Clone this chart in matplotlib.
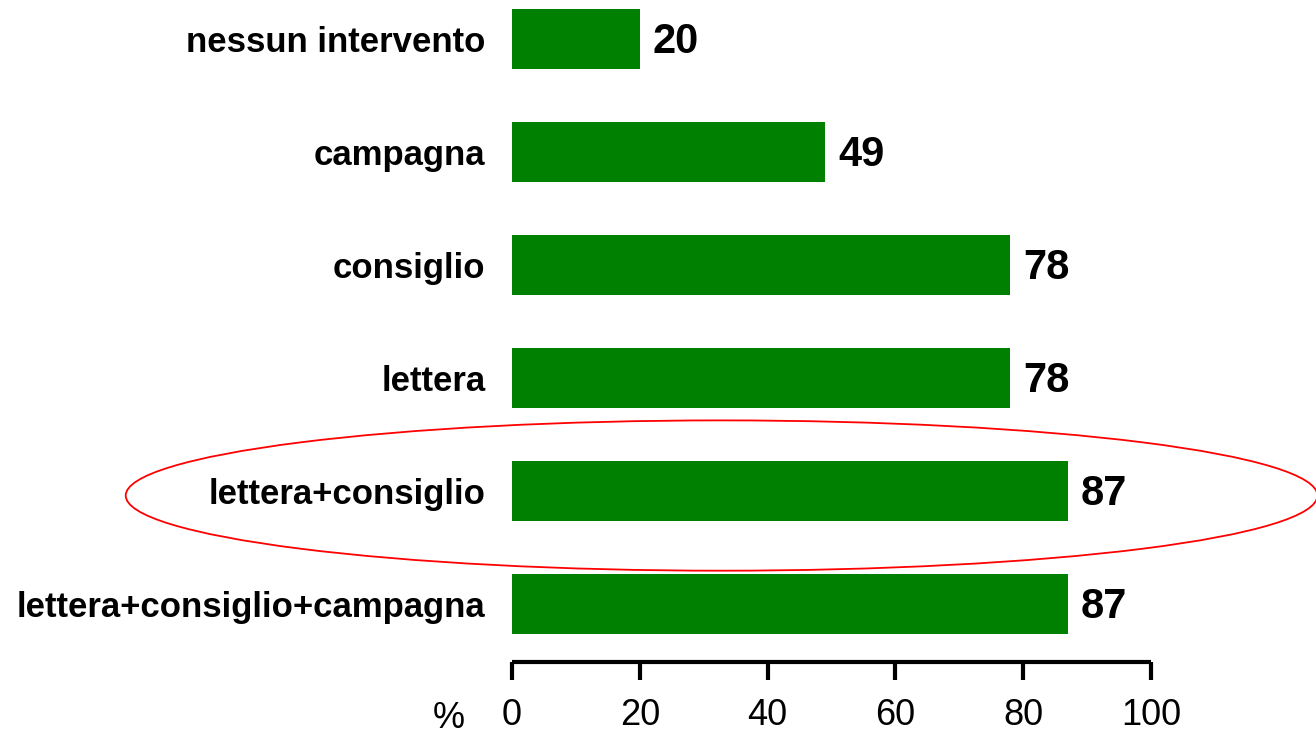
import matplotlib
matplotlib.use("Agg")
import matplotlib.pyplot as plt
from matplotlib.patches import Ellipse

categories = ["nessun intervento", "campagna", "consiglio", "lettera",
              "lettera+consiglio", "lettera+consiglio+campagna"]
values = [20, 49, 78, 78, 87, 87]
ticks = [0, 20, 40, 60, 80, 100]

plt.rcParams['font.family'] = ['Liberation Sans', 'DejaVu Sans']

fig = plt.figure(figsize=(13.16, 7.34), dpi=100)
ax = fig.add_axes([512 / 1316, 1 - 662 / 734, 639 / 1316, 662 / 734])

pos = list(range(len(categories)))
ax.barh(pos, values, height=0.53, color="#008000")
for p, v in zip(pos, values):
    ax.text(v + 2, p + 0.03, str(v), va="center", ha="left",
            fontsize=30, fontweight="bold")

ax.set_xlim(0, 100)
ax.set_ylim(5.513, -0.345)
ax.set_yticks(pos)
ax.set_yticklabels(categories, fontsize=25, fontweight="bold")
ax.tick_params(axis="y", length=0, pad=19)
ax.set_xticks(ticks)
ax.tick_params(axis="x", length=13, width=3, labelsize=26, pad=13)

for s in ["top", "right", "left"]:
    ax.spines[s].set_visible(False)
ax.spines["bottom"].set_linewidth(3)
ax.spines["bottom"].set_capstyle("butt")

ax.text(-9.9, 6.1, "%", fontsize=26, ha="center", va="baseline", clip_on=False)

ell = Ellipse((32.8, 4.04), 186.5, 1.33, fill=False, edgecolor="red",
              linewidth=1.3, clip_on=False)
ax.add_patch(ell)

fig.savefig("out.png", dpi=100)
